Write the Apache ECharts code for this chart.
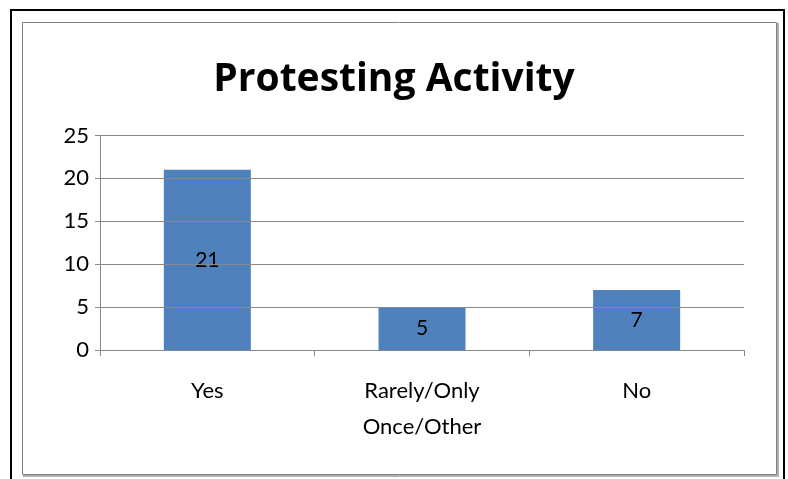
<!DOCTYPE html>
<html>
<head>
<meta charset="utf-8">
<script src="https://cdn.jsdelivr.net/npm/echarts@6/dist/echarts.min.js"></script>
<style>
  html, body { margin: 0; padding: 0; background: #fff; }
  #chart { width: 788px; height: 479px; }
</style>
</head>
<body>
<div id="chart"></div>
<script>
const chartTitle = 'Protesting Activity';
const categories = ['Yes', 'Rarely/Only\nOnce/Other', 'No'];
const counts = [21, 5, 7];
const yTicks = { min: 0, max: 25, interval: 5 };

const font = 'Lato, "Open Sans", sans-serif';
const chart = echarts.init(document.getElementById('chart'), null, { renderer: 'canvas' });

chart.setOption({
  animation: false,
  backgroundColor: '#fff',
  title: {
    text: chartTitle,
    left: 'center',
    top: 55,
    textStyle: { fontFamily: '"Open Sans", Lato, sans-serif', fontWeight: 'bold', fontSize: 39, color: '#000' }
  },
  graphic: [
    {
      type: 'rect',
      shape: { x: 11, y: 10, width: 773, height: 480 },
      style: { fill: 'none', stroke: '#000', lineWidth: 2 },
      silent: true
    },
    {
      type: 'rect',
      shape: { x: 24, y: 24, width: 754, height: 452 },
      style: { fill: 'none', stroke: '#b0b0b0', lineWidth: 2 },
      silent: true
    },
    {
      type: 'rect',
      shape: { x: 22.5, y: 22.5, width: 754, height: 452 },
      style: { fill: '#fff', stroke: '#808080', lineWidth: 1 },
      silent: true
    }
  ],
  grid: { left: 100, right: 44, top: 135.5, bottom: 129, containLabel: false },
  xAxis: {
    type: 'category',
    data: categories,
    axisLine: { lineStyle: { color: '#888', width: 1 } },
    axisTick: { show: true, length: 6, lineStyle: { color: '#888' } },
    axisLabel: {
      color: '#000', fontFamily: font, fontSize: 22, margin: 23, lineHeight: 36
    },
    z: 10
  },
  yAxis: {
    type: 'value',
    min: yTicks.min,
    max: yTicks.max,
    interval: yTicks.interval,
    axisLine: { show: true, lineStyle: { color: '#888', width: 1 } },
    axisTick: { show: true, length: 5, lineStyle: { color: '#888' } },
    axisLabel: { color: '#000', fontFamily: font, fontSize: 22, margin: 11 },
    splitLine: { lineStyle: { color: '#888', width: 1 } },
    z: 10
  },
  series: [{
    type: 'bar',
    data: counts,
    barWidth: 87,
    itemStyle: { color: '#4F81BD' },
    label: {
      show: true,
      position: 'inside',
      color: '#000',
      fontFamily: font,
      fontSize: 21
    },
    z: 5
  }]
});
</script>
</body>
</html>
